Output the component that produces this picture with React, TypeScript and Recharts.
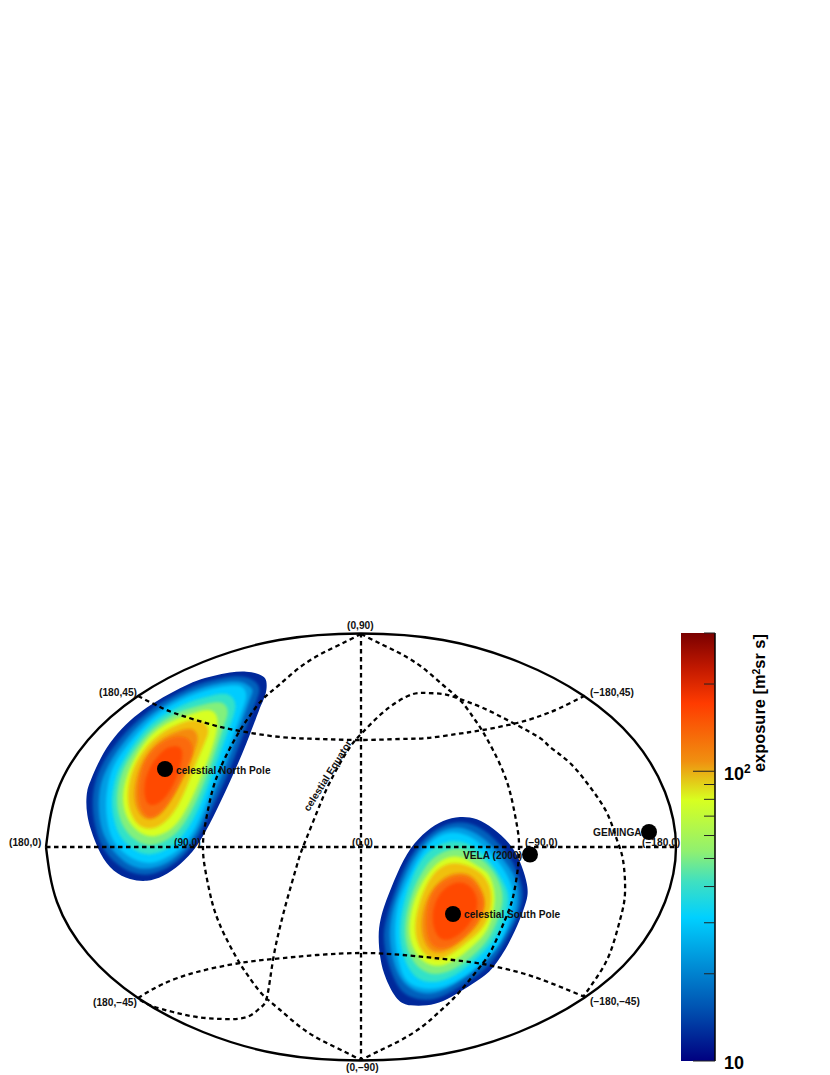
import React from 'react';
import { ComposedChart, Scatter, Bar, XAxis, YAxis } from 'recharts';

// sky plane readings: [x, upper edge, lower edge] of each exposure contour
const north0 = [[86,802,802],[87,790,815],[90,782,828],[100,758,855],[113,738,872],[130,720,880],[147,707,882],[163,697,877],[180,688,865],[197,680,848],[213,676,818],[230,672,782],[247,671,743],[260,674,707],[266,678,695],[267,685,685]];
const north1 = [[92,803,803],[94,785,823],[100,767,845],[113,747,862],[130,727,873],[147,712,876],[163,701,871],[180,692,860],[197,684,841],[213,680,807],[230,676,770],[247,676,725],[258,683,697],[260,690,690]];
const north2 = [[98,804,804],[100,785,825],[105,772,838],[113,756,852],[130,734,867],[147,717,870],[163,706,866],[180,696,855],[197,689,835],[213,684,796],[230,681,757],[243,681,718],[252,688,694],[253,691,691]];
const north3 = [[105,805,805],[108,782,828],[113,765,842],[127,745,857],[147,722,865],[163,710,860],[180,700,850],[197,693,828],[213,688,785],[230,685,745],[243,685,708],[248,695,695]];
const north4 = [[111,802,802],[114,782,822],[120,765,838],[133,745,850],[147,727,856],[163,715,852],[180,706,841],[197,699,815],[213,695,773],[230,692,725],[238,705,705]];
const north5 = [[116,800,800],[119,780,818],[125,765,830],[133,752,839],[147,733,847],[163,720,843],[180,711,832],[197,706,802],[213,702,760],[225,702,722],[229,712,712]];
const north6 = [[122,798,798],[125,780,815],[133,760,828],[147,738,838],[163,725,835],[180,717,823],[197,712,788],[213,708,748],[220,720,720]];
const north7 = [[127,797,797],[130,776,813],[137,760,825],[147,745,830],[163,731,826],[180,723,805],[193,719,770],[205,722,742],[210,730,730]];
const north8 = [[133,795,795],[137,772,812],[147,752,822],[163,737,815],[180,730,785],[193,727,755],[200,737,737]];
const north9 = [[137,794,794],[141,768,812],[150,752,820],[163,741,812],[178,735,788],[190,738,762],[194,750,750]];
const north10 = [[143,790,790],[147,770,808],[163,748,803],[177,745,780],[185,750,750]];

const south0 = [[378,935,935],[380,920,960],[385,903,978],[397,873,1002],[410,847,1006],[427,830,1006],[443,820,1002],[460,816,992],[477,818,981],[493,828,970],[510,843,942],[520,860,920],[527,882,900],[528,892,892]];
const south1 = [[383,936,936],[386,918,958],[397,884,988],[410,855,998],[427,835,1001],[443,825,997],[460,821,987],[477,825,976],[493,837,963],[510,855,934],[520,878,912],[524,894,894]];
const south2 = [[389,935,935],[391,915,952],[397,895,975],[410,862,990],[427,840,995],[443,829,991],[460,826,981],[477,833,969],[493,846,955],[510,868,927],[517,880,912],[519,896,896]];
const south3 = [[394,933,933],[397,905,955],[403,890,980],[417,858,988],[433,838,990],[450,831,985],[467,834,975],[483,845,962],[500,863,945],[510,880,920],[515,896,896]];
const south4 = [[399,932,932],[402,908,954],[410,882,972],[420,860,981],[433,847,983],[450,840,979],[467,842,967],[483,853,953],[497,871,937],[505,885,918],[510,898,898]];
const south5 = [[404,931,931],[407,908,950],[415,884,965],[425,867,972],[433,857,975],[450,848,972],[467,849,961],[483,860,947],[493,870,932],[500,883,914],[504,898,898]];
const south6 = [[408,930,930],[412,905,947],[420,885,960],[433,866,967],[447,856,965],[463,856,955],[480,868,940],[490,873,927],[497,897,897]];
const south7 = [[414,928,928],[418,905,947],[428,880,958],[440,866,961],[455,862,952],[470,866,940],[482,873,930],[490,885,915],[492,898,898]];
const south8 = [[420,925,925],[425,900,947],[437,882,955],[453,872,948],[470,873,933],[480,885,923],[487,902,902]];
const south9 = [[425,923,923],[429,895,945],[442,881,950],[457,875,944],[472,877,930],[481,892,917],[485,903,903]];
const south10 = [[430,918,918],[438,892,943],[457,880,938],[472,885,922],[480,903,903]];

const northContours = [north0, north1, north2, north3, north4, north5, north6, north7, north8, north9, north10];
const southContours = [south0, south1, south2, south3, south4, south5, south6, south7, south8, south9, south10];
const contourColors = ['#00289a', '#0060bc', '#009de4', '#00ccff', '#30e2c8', '#82f07c', '#d8ff20', '#f0c010', '#f58a10', '#fb6a08', '#ff4a00'];

const outline = [[46,847],[57,792],[88,740],[138,696],[203,662],[279,640],[361,633.5],[443,640],[519,662],[584,696],[634,740],[665,792],[676,847],[665,902],[634,954],[584,998],[519,1032],[443,1054],[361,1060.5],[279,1054],[203,1032],[138,998],[88,954],[57,902],[46,847]];
const equator = [[46,847],[677,847]];
const meridian0 = [[361,633],[361,1060]];
const meridianEast = [[361,634],[383,645],[403,655],[423,668],[443,685],[460,700],[473,717],[483,732],[497,758],[507,782],[513,805],[518,832],[519,847],[518,867],[513,897],[505,920],[493,947],[483,963],[467,983],[452,1000],[438,1013],[423,1026],[403,1039],[383,1049],[361,1060]];
const meridianWest = [[361,634],[339,645],[319,655],[299,668],[279,685],[262,700],[249,717],[239,732],[225,758],[215,782],[209,805],[204,832],[203,847],[204,862],[209,889],[215,912],[225,936],[239,962],[249,977],[262,994],[279,1009],[299,1026],[319,1039],[339,1049],[361,1060]];
const latNorth = [[138,696],[160,707],[180,715],[213,725],[240,731],[280,737],[320,739],[361,740],[400,739],[427,738],[457,734],[483,730],[517,723],[540,716],[560,708],[588,694]];
const latSouth = [[138,998],[163,984],[197,972],[240,963],[273,959],[317,955],[361,953],[403,955],[453,960],[483,964],[510,970],[540,979],[585,997]];
const celestialEquator = [[140,1000],[152,1006],[173,1012],[197,1017],[223,1019],[247,1017],[260,1008],[267,997],[273,960],[280,927],[287,900],[297,865],[303,847],[317,812],[330,782],[348,750],[362,733],[380,715],[397,702],[413,694],[427,693],[443,694],[457,698],[483,708],[513,723],[540,738],[550,747],[570,763],[590,787],[607,813],[617,840],[623,860],[625,893],[620,920],[610,953],[597,977],[583,997]];
const dashedPaths = [equator, meridian0, meridianEast, meridianWest, latNorth, latSouth, celestialEquator];

const sources = [{ x: 165, y: 769 }, { x: 453, y: 914 }, { x: 530, y: 854.5 }, { x: 649, y: 832 }];

const skyLabels = [
  { x: 9, y: 846, text: '(180,0)' },
  { x: 99, y: 696, text: '(180,45)' },
  { x: 93, y: 1006, text: '(180,−45)' },
  { x: 347, y: 629, text: '(0,90)' },
  { x: 346, y: 1071, text: '(0,−90)' },
  { x: 174, y: 846, text: '(90,0)' },
  { x: 352, y: 846, text: '(0,0)' },
  { x: 525, y: 846, text: '(−90,0)' },
  { x: 642, y: 846, text: '(−180,0)' },
  { x: 590, y: 696, text: '(−180,45)' },
  { x: 590, y: 1005, text: '(−180,−45)' },
  { x: 176, y: 774, text: 'celestial North Pole' },
  { x: 464, y: 918, text: 'celestial South Pole' },
  { x: 463, y: 859, text: 'VELA (2000)' },
  { x: 593, y: 836, text: 'GEMINGA' },
];
const equatorLabel = [{ x: 309, y: 812, text: 'celestial Equator' }];
const barTitle = [{ x: 765, y: 772 }];

const barTicks = [10, 20, 30, 40, 50, 60, 70, 80, 90, 100, 200, 300];
const barRange = [{ name: 'exposure', range: [10, 300] }];
const barStops = [
  [0, '#000080'], [0.12, '#0050b0'], [0.335, '#00d0ff'], [0.42, '#40e0c0'], [0.49, '#90f070'],
  [0.61, '#d8ff20'], [0.7, '#f09010'], [0.836, '#ff3b00'], [0.92, '#c01800'], [1, '#7a0000'],
];

const FONT = '"Liberation Sans", Arial, sans-serif';

// walk the upper edge left to right, then the lower edge back
const toRing = (rows: number[][]) => [
  ...rows.map(([x, upper]) => ({ x, y: upper })),
  ...rows.slice(1, -1).reverse().map(([x, , lower]) => ({ x, y: lower })),
];
const toPoint = (rows: number[][]) => rows.map(([x, y]) => ({ x, y }));
const noPoint = () => null;

const SkyLabel = (props: any) => (
  <text x={props.cx} y={props.cy} fontFamily={FONT} fontWeight="bold" fontSize={10.2} fill="#111">
    {props.payload.text}
  </text>
);

const EquatorLabel = (props: any) => (
  <text
    x={props.cx}
    y={props.cy}
    transform={`rotate(-58 ${props.cx} ${props.cy})`}
    fontFamily={FONT}
    fontWeight="bold"
    fontSize={10.2}
    fill="#111"
  >
    {props.payload.text}
  </text>
);

const BarTitle = (props: any) => (
  <text
    x={props.cx}
    y={props.cy}
    transform={`rotate(-90 ${props.cx} ${props.cy})`}
    fontFamily={FONT}
    fontWeight="bold"
    fontSize={16.4}
    fill="#000"
  >
    exposure [m<tspan dy={-5} fontSize={10.5}>2</tspan><tspan dy={5}>sr s]</tspan>
  </text>
);

const BarTick = (props: any) => {
  const value = props.payload.value;
  const major = value === 10 || value === 100;
  return (
    <g>
      <line x1={props.x} x2={props.x - (major ? 22 : 11)} y1={props.y} y2={props.y} stroke="#222" strokeWidth={1} />
      {major && (
        <text x={props.x + 9} y={props.y + (value === 10 ? 8 : 9)} fontFamily={FONT} fontWeight="bold" fontSize={18} fill="#000">
          10
          {value === 100 && <tspan dy={-7} fontSize={12}>2</tspan>}
        </text>
      )}
    </g>
  );
};

const renderContours = (contours: number[][][], prefix: string) =>
  contours.map((rows, i) => (
    <Scatter
      key={`${prefix}${i}`}
      data={toRing(rows)}
      shape={noPoint}
      line={{ fill: contourColors[i], stroke: 'none', filter: i === 0 ? undefined : 'url(#soften)' }}
      lineType="joint"
      lineJointType="basisClosed"
      isAnimationActive={false}
    />
  ));

export default function App() {
  return (
    <div style={{ position: 'absolute', left: 0, top: 0, width: 830, height: 1075 }}>
      <ComposedChart width={830} height={1075} margin={{ top: 0, right: 0, bottom: 0, left: 0 }}>
        <defs>
          <filter id="soften" x="-30%" y="-30%" width="160%" height="160%">
            <feGaussianBlur stdDeviation="1.8" />
          </filter>
        </defs>
        <XAxis dataKey="x" type="number" domain={[0, 830]} hide />
        <YAxis dataKey="y" type="number" domain={[0, 1075]} reversed hide />
        {renderContours(northContours, 'n')}
        {renderContours(southContours, 's')}
        {dashedPaths.map((rows, i) => (
          <Scatter
            key={`d${i}`}
            data={toPoint(rows)}
            shape={noPoint}
            line={{ stroke: '#000', strokeWidth: 2.3, strokeDasharray: '4.5 3.5' }}
            lineType="joint"
            lineJointType="natural"
            isAnimationActive={false}
          />
        ))}
        <Scatter
          data={toPoint(outline)}
          shape={noPoint}
          line={{ stroke: '#000', strokeWidth: 2.4 }}
          lineType="joint"
          lineJointType="natural"
          isAnimationActive={false}
        />
        <Scatter data={sources} shape={(p: any) => <circle cx={p.cx} cy={p.cy} r={8} fill="#000" />} isAnimationActive={false} />
        <Scatter data={skyLabels} shape={SkyLabel} isAnimationActive={false} />
        <Scatter data={equatorLabel} shape={EquatorLabel} isAnimationActive={false} />
        <Scatter data={barTitle} shape={BarTitle} isAnimationActive={false} />
      </ComposedChart>
      <div style={{ position: 'absolute', left: 670, top: 620, width: 110, height: 455 }}>
        <ComposedChart width={110} height={455} data={barRange} margin={{ top: 13, right: 0, bottom: 14, left: 11 }} barCategoryGap={0}>
          <defs>
            <linearGradient id="exposureRamp" x1="0" y1="1" x2="0" y2="0">
              {barStops.map(([pos, color]) => (
                <stop key={pos as number} offset={pos as number} stopColor={color as string} />
              ))}
            </linearGradient>
          </defs>
          <XAxis dataKey="name" hide />
          <YAxis
            orientation="right"
            width={65}
            scale="log"
            type="number"
            domain={[10, 300]}
            ticks={barTicks}
            interval={0}
            allowDataOverflow
            tickLine={false}
            tickSize={0}
            tickMargin={0}
            tick={BarTick}
            axisLine={{ stroke: '#000', strokeWidth: 1.5 }}
          />
          <Bar dataKey="range" fill="url(#exposureRamp)" isAnimationActive={false} />
        </ComposedChart>
      </div>
    </div>
  );
}
